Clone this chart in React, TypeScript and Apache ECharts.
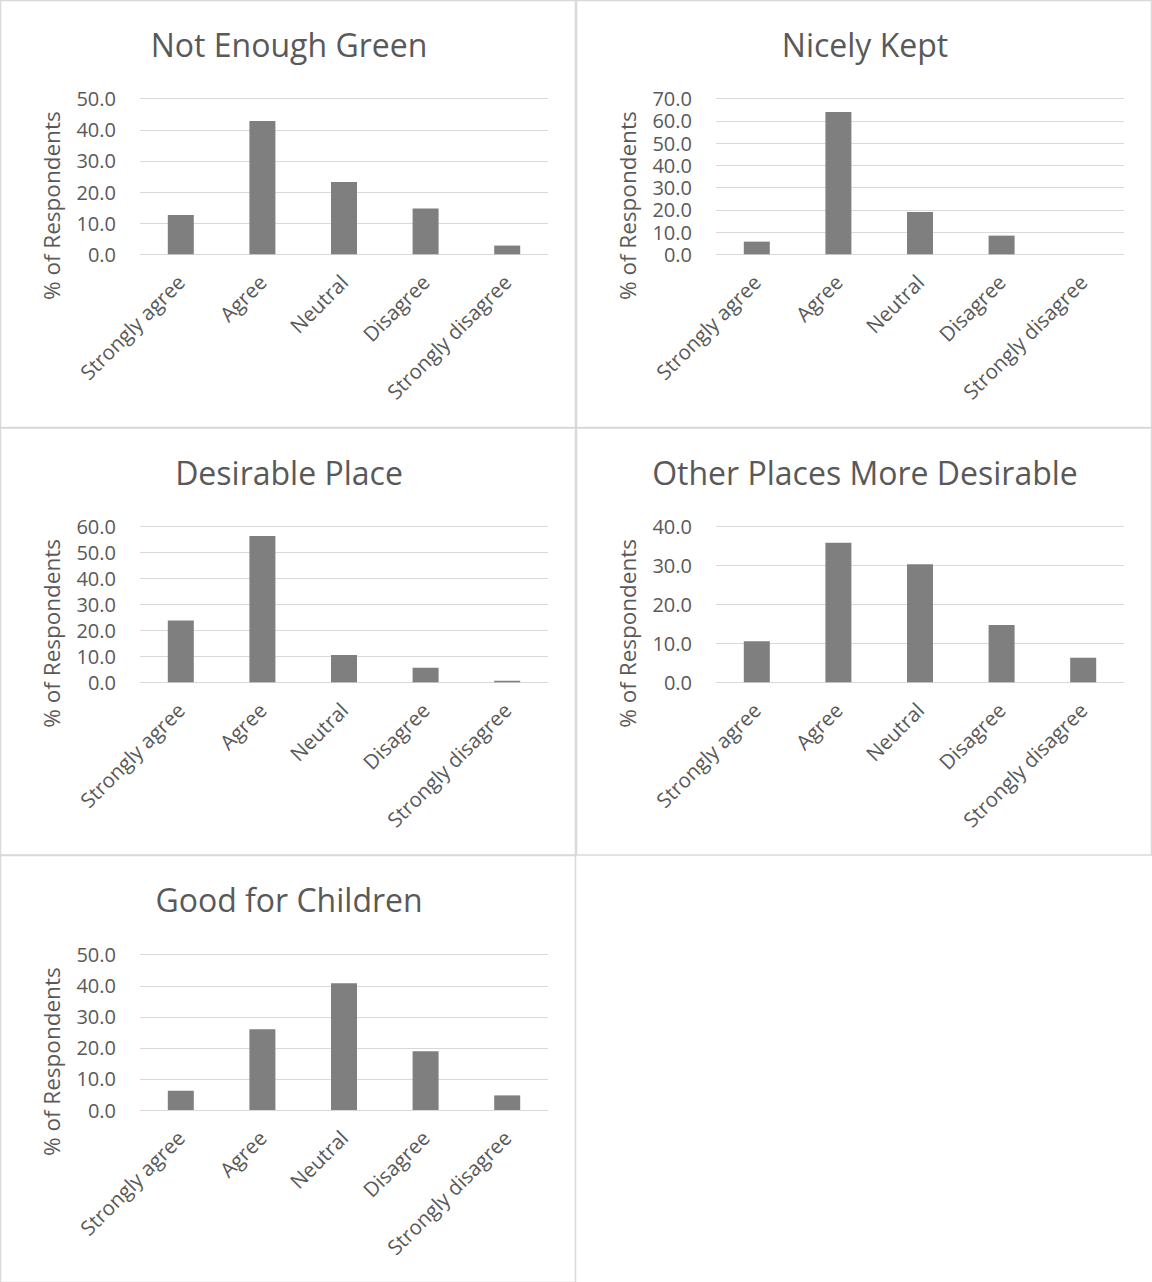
import React, { useEffect, useRef } from "react";
import * as echarts from "echarts";

const categories = ["Strongly agree", "Agree", "Neutral", "Disagree", "Strongly disagree"];
const chartTitles = [
  "Not Enough Green",
  "Nicely Kept",
  "Desirable Place",
  "Other Places More Desirable",
  "Good for Children",
];
const notEnoughGreen = [12.6, 42.8, 23.2, 14.7, 2.8];
const nicelyKept = [5.7, 64.0, 19.0, 8.4, 0.0];
const desirablePlace = [23.8, 56.3, 10.5, 5.6, 0.6];
const otherPlacesMoreDesirable = [10.5, 35.8, 30.3, 14.7, 6.3];
const goodForChildren = [6.2, 26.0, 40.8, 18.9, 4.7];
const seriesValues = [notEnoughGreen, nicelyKept, desirablePlace, otherPlacesMoreDesirable, goodForChildren];
const yMaxima = [50, 70, 60, 40, 50];
const yAxisName = "% of Respondents";

const W = 1152;
const H = 1282;
const colX = [0, 576];
const rowY = [0, 427.5, 855];
const plotTop = [98.7, 526.3, 954.7];
const plotBottom = [254.3, 682.3, 1110];
const FONT = "'Open Sans', 'Noto Sans', sans-serif";
const TEXT = "#595959";
const LINE = "#d9d9d9";

export default function App() {
  const ref = useRef<HTMLDivElement>(null);
  useEffect(() => {
    if (!ref.current) return;
    const chart = echarts.init(ref.current, null, { renderer: "svg" });
    const grids: any[] = [];
    const xAxes: any[] = [];
    const yAxes: any[] = [];
    const series: any[] = [];
    const graphics: any[] = [];
    seriesValues.forEach((vals, i) => {
      const c = i % 2;
      const r = Math.floor(i / 2);
      const x0 = colX[c];
      const y0 = rowY[r];
      grids.push({
        left: x0 + 140,
        width: 408,
        top: plotTop[r],
        height: plotBottom[r] - plotTop[r],
        containLabel: false,
      });
      xAxes.push({
        type: "category",
        gridIndex: i,
        data: categories,
        axisTick: { show: false },
        axisLine: { show: true, lineStyle: { color: LINE, width: 1 } },
        axisLabel: {
          rotate: 45,
          interval: 0,
          margin: 24,
          color: TEXT,
          fontSize: 20.5,
          fontFamily: FONT,
        },
      });
      yAxes.push({
        type: "value",
        gridIndex: i,
        min: 0,
        max: yMaxima[i],
        interval: 10,
        axisLine: { show: false },
        axisTick: { show: false },
        splitLine: { show: true, lineStyle: { color: LINE, width: 1 } },
        axisLabel: {
          margin: 24,
          color: TEXT,
          fontSize: 20,
          fontFamily: FONT,
          formatter: (v: number) => v.toFixed(1),
        },
      });
      series.push({
        type: "bar",
        xAxisIndex: i,
        yAxisIndex: i,
        data: vals,
        barWidth: 26,
        itemStyle: { color: "#7f7f7f" },
      });
      graphics.push({
        type: "rect",
        shape: { x: x0 + 0.5, y: y0 + 0.5, width: 575, height: 427 },
        style: { fill: "none", stroke: LINE, lineWidth: 1.5 },
        silent: true,
      });
      graphics.push({
        type: "text",
        x: x0 + 289,
        y: y0 + 44.5,
        style: {
          text: chartTitles[i],
          fill: TEXT,
          font: `32px ${FONT}`,
          align: "center",
          verticalAlign: "middle",
        },
      });
      graphics.push({
        type: "text",
        x: x0 + 51,
        y: plotTop[r] + 107,
        rotation: Math.PI / 2,
        style: {
          text: yAxisName,
          fill: TEXT,
          font: `22.5px ${FONT}`,
          align: "center",
          verticalAlign: "middle",
        },
      });
    });
    chart.setOption({
      animation: false,
      backgroundColor: "#ffffff",
      grid: grids,
      xAxis: xAxes,
      yAxis: yAxes,
      series,
      graphic: graphics,
    });
    return () => chart.dispose();
  }, []);
  return (
    <div
      ref={ref}
      style={{ position: "fixed", left: 0, top: 0, width: W, height: H, background: "#fff" }}
    />
  );
}
